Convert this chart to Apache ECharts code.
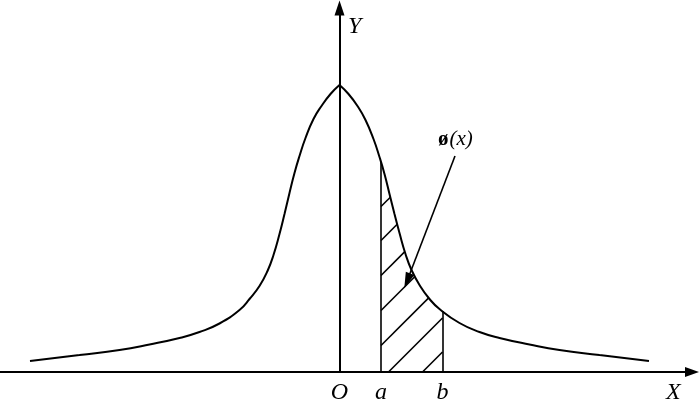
<!DOCTYPE html>
<html>
<head>
<meta charset="utf-8">
<script src="https://cdn.jsdelivr.net/npm/echarts@6/dist/echarts.min.js"></script>
<style>
html,body{margin:0;padding:0;background:#fff;}
#chart{width:700px;height:401px;}
</style>
</head>
<body>
<div id="chart"></div>
<script>
//曲线左半支
var leftX=[-3.095,-2.60,-2.20,-1.90,-1.60,-1.40,-1.20,-1.00,-0.90,-0.80,-0.72,-0.66,-0.60,-0.55,-0.50,-0.45,-0.40,-0.34,-0.26,-0.18,-0.09,0];
var leftY=[0.11,0.17,0.22,0.275,0.34,0.40,0.485,0.62,0.73,0.86,1.01,1.17,1.38,1.58,1.79,1.99,2.16,2.34,2.53,2.66,2.78,2.87];
//曲线右半支
var rightX=[0,0.09,0.18,0.26,0.34,0.40,0.45,0.50,0.55,0.60,0.66,0.72,0.80,0.90,1.00,1.20,1.40,1.60,1.90,2.20,2.60,3.095];
var rightY=[2.87,2.78,2.66,2.52,2.33,2.15,1.98,1.78,1.58,1.39,1.18,1.02,0.87,0.73,0.63,0.49,0.40,0.34,0.275,0.22,0.17,0.11];
//阴影区间
var areaA=0.415, areaB=1.03;
//斜线 x - y = k
var hatchK=[-1.24,-0.90,-0.55,-0.20,0.15,0.49,0.83];
//横轴标注
var tickValues=[0,areaA,areaB];
var tickNames=['O','a','b'];
//指示箭头 起点 / 箭尖
var pointerFrom=[1.155,2.16];
var pointerTo=[0.648,0.837];

function zip(xs,ys){
    return xs.map(function(v,i){return [v,ys[i]];});
}
function curveAt(x){
    for(var i=0;i<rightX.length-1;i++){
        if(x>=rightX[i] && x<=rightX[i+1]){
            var t=(x-rightX[i])/(rightX[i+1]-rightX[i]);
            return rightY[i]+t*(rightY[i+1]-rightY[i]);
        }
    }
    return 0;
}
function hatchSeg(k){
    var x0=Math.max(areaA,k);
    var p0=[x0,x0-k];
    var xs=[x0];
    rightX.forEach(function(v){ if(v>x0 && v<areaB) xs.push(v); });
    xs.push(areaB);
    for(var i=0;i<xs.length-1;i++){
        var g0=curveAt(xs[i])-(xs[i]-k);
        var g1=curveAt(xs[i+1])-(xs[i+1]-k);
        if(g1<0){
            var x=xs[i]+g0/(g0-g1)*(xs[i+1]-xs[i]);
            return {coords:[p0,[x,x-k]]};
        }
    }
    return {coords:[p0,[areaB,areaB-k]]};
}

var hatchData=[
    {coords:[[areaA,0],[areaA,curveAt(areaA)]]},
    {coords:[[areaB,0],[areaB,curveAt(areaB)]]}
].concat(hatchK.map(hatchSeg));

//箭头符号中心放在箭尖后半个符号长度处
var arrowLen=16;
var dx=pointerTo[0]-pointerFrom[0], dy=pointerTo[1]-pointerFrom[1];
var dl=Math.sqrt(dx*dx+dy*dy);
var pointerEnd=[pointerTo[0]-dx/dl*arrowLen/200, pointerTo[1]-dy/dl*arrowLen/200];

var chart=echarts.init(document.getElementById("chart"));
var font='Liberation Serif';
var option={
    animation:false,
    grid:{left:0,right:8,top:8,bottom:29,containLabel:false,outerBoundsMode:'none'},
    xAxis:{
        type:'value',
        min:-3.395,
        max:3.525,
        axisLine:{
            onZero:true,
            symbol:['none','triangle'],
            symbolSize:[10,14],
            lineStyle:{color:'#000',width:2}
        },
        axisTick:{show:false},
        splitLine:{show:false},
        axisLabel:{
            customValues:tickValues,
            margin:9,
            color:'#000',
            fontFamily:font,
            fontStyle:'italic',
            fontSize:24,
            formatter:function(v){
                var i=tickValues.indexOf(v);
                return i<0?'':tickNames[i];
            }
        }
    },
    yAxis:{
        type:'value',
        min:0,
        max:3.64,
        axisLine:{
            onZero:true,
            symbol:['none','triangle'],
            symbolSize:[10,15],
            lineStyle:{color:'#000',width:2}
        },
        axisTick:{show:false},
        splitLine:{show:false},
        axisLabel:{show:false}
    },
    graphic:[
        {type:'text',left:348,top:15,style:{text:'Y',fontFamily:font,fontStyle:'italic',fontSize:24,fill:'#000'}},
        {type:'text',left:666,top:381,style:{text:'X',fontFamily:font,fontStyle:'italic',fontSize:24,fill:'#000'}},
        {type:'text',left:438,top:129,style:{
            text:'{p|ø}{q|(x)}',
            rich:{
                p:{fontFamily:font,fontWeight:'bold',fontSize:21,fill:'#000'},
                q:{fontFamily:font,fontStyle:'italic',fontSize:21,fill:'#000',padding:[0,0,0,1]}
            }
        }}
    ],
    series:[{
        type:'line',
        data:zip(leftX,leftY),
        smooth:0.5,
        symbol:'none',
        lineStyle:{color:'#000',width:2}
    },{
        type:'line',
        data:zip(rightX,rightY),
        smooth:0.5,
        symbol:'none',
        lineStyle:{color:'#000',width:2}
    },{
        type:'lines',
        coordinateSystem:'cartesian2d',
        silent:true,
        lineStyle:{color:'#000',width:1.6,opacity:1},
        data:hatchData
    },{
        type:'lines',
        coordinateSystem:'cartesian2d',
        silent:true,
        symbol:['none','triangle'],
        symbolSize:[0,[9,arrowLen]],
        lineStyle:{color:'#000',width:1.6,opacity:1},
        itemStyle:{color:'#000'},
        data:[{coords:[pointerFrom,pointerEnd]}]
    }]
};
chart.setOption(option);
</script>
</body>
</html>
